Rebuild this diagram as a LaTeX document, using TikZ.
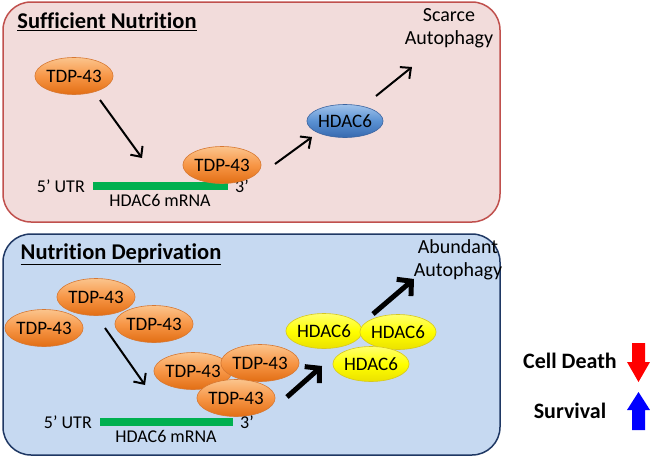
\documentclass[tikz,border=0pt]{standalone}
\usepackage{fontspec}
\setmainfont{Carlito}[Ligatures={TeX,NoCommon}]
\usetikzlibrary{shapes.geometric,arrows.meta,positioning}
\definecolor{pinkbg}{RGB}{242,220,219}
\definecolor{pinkline}{RGB}{192,80,77}
\definecolor{bluebg}{RGB}{198,217,241}
\definecolor{blueline}{RGB}{31,56,100}
\definecolor{tdplight}{RGB}{251,196,140}
\definecolor{tdpmid}{RGB}{247,150,70}
\definecolor{tdpdark}{RGB}{226,110,20}
\definecolor{tdpedge}{RGB}{215,120,50}
\definecolor{hdlight}{RGB}{160,195,235}
\definecolor{hdmid}{RGB}{90,145,210}
\definecolor{hddark}{RGB}{55,105,175}
\definecolor{hdedge}{RGB}{60,100,160}
\definecolor{ylight}{RGB}{255,255,110}
\definecolor{ydark}{RGB}{235,225,0}
\definecolor{yedge}{RGB}{215,200,30}
\definecolor{mrnagreen}{RGB}{0,176,80}
\tikzset{
  every node/.style={font=\fontsize{18}{22}\selectfont},
  tdp/.style={ellipse, minimum width=75pt, minimum height=37pt, inner sep=0pt,
    top color=tdplight, bottom color=tdpdark, middle color=tdpmid,
    draw=tdpedge, line width=0.6pt, font=\fontsize{19}{22}\selectfont},
  hdblue/.style={ellipse, minimum width=76pt, minimum height=33pt, inner sep=0pt,
    top color=hdlight, bottom color=hddark, middle color=hdmid,
    draw=hdedge, line width=0.6pt, font=\fontsize{19}{22}\selectfont},
  hdyellow/.style={ellipse, minimum width=75pt, minimum height=35pt, inner sep=0pt,
    top color=ylight, bottom color=ydark, middle color=yellow,
    draw=yedge, line width=0.6pt, font=\fontsize{19}{22}\selectfont},
  mrna/.style={rectangle, fill=mrnagreen, minimum width=135pt, minimum height=8pt, inner sep=0pt},
  heading/.style={font=\fontsize{22.5}{26}\selectfont\bfseries},
  outcome/.style={align=center, font=\fontsize{20}{23}\selectfont},
  legend/.style={font=\fontsize{22}{24}\selectfont\bfseries},
  thinarrow/.style={line width=2pt, -{Straight Barb[length=8pt,width=15pt]}},
  thickarrow/.style={line width=5pt, -{Straight Barb[length=10pt,width=22pt]}}
}
\begin{document}
\begin{tikzpicture}[x=1pt, y=-1pt]
  \useasboundingbox (0,0) rectangle (650,458);

  % top panel
  \draw[fill=pinkbg, draw=pinkline, line width=1.5pt, rounded corners=28pt] (3,2) rectangle (500,222);
  \node[heading] (titleA) at (107,22) {\underline{Sufficient Nutrition}};
  \node[outcome] (scarce) at (449,28) {Scarce\\Autophagy};

  \node[tdp] (tdpA) at (74,76) {TDP-43};
  \node[mrna] (mrnaA) at (160,186) {};
  \node[left=4pt of mrnaA] (utrA) {5' UTR};
  \node[right=4pt of mrnaA] (endA) {3'};
  \node[below=1pt of mrnaA] (nameA) {HDAC6 mRNA};
  \node[tdp] (tdpB) at (222,165) {TDP-43};
  \node[hdblue] (hdacA) at (345,121) {HDAC6};

  \coordinate (a1s) at (100,100);
  \coordinate (a1e) at (142,158);
  \coordinate (a2s) at (275,164);
  \coordinate (a2e) at (312,137);
  \coordinate (a3s) at (376,96);
  \coordinate (a3e) at (412,67);
  \draw[thinarrow] (a1s) -- (a1e);
  \draw[thinarrow] (a2s) -- (a2e);
  \draw[thinarrow] (a3s) -- (a3e);

  % bottom panel
  \draw[fill=bluebg, draw=blueline, line width=1.5pt, rounded corners=28pt] (3,234) rectangle (500,455);
  \node[heading] (titleB) at (121,254) {\underline{Nutrition Deprivation}};
  \node[outcome] (abundant) at (458,260) {Abundant\\Autophagy};

  \node[tdp] (tdpC) at (96,297) {TDP-43};
  \node[tdp] (tdpD) at (44,328) {TDP-43};
  \node[tdp] (tdpE) at (154,324) {TDP-43};
  \node[tdp] (tdpF) at (193,371) {TDP-43};
  \node[tdp] (tdpG) at (260,363) {TDP-43};
  \node[tdp] (tdpH) at (236,398) {TDP-43};

  \node[mrna, minimum width=133pt] (mrnaB) at (166,422) {};
  \node[left=4pt of mrnaB] (utrB) {5' UTR};
  \node[right=4pt of mrnaB] (endB) {3'};
  \node[below=1pt of mrnaB] (nameB) {HDAC6 mRNA};

  \node[hdyellow] (hdacB) at (324,331) {HDAC6};
  \node[hdyellow] (hdacC) at (398,332) {HDAC6};
  \node[hdyellow] (hdacD) at (371,364) {HDAC6};

  \coordinate (b1s) at (105,328);
  \coordinate (b1e) at (145,385);
  \coordinate (b2s) at (287,397);
  \coordinate (b2e) at (322,366);
  \coordinate (b3s) at (373,314);
  \coordinate (b3e) at (414,279);
  \draw[thinarrow] (b1s) -- (b1e);
  \draw[thickarrow] (b2s) -- (b2e);
  \draw[thickarrow] (b3s) -- (b3e);

  % legend
  \node[legend] (death) at (570,361) {Cell Death};
  \node[legend] (survival) at (570,411) {Survival};
  \fill[red] (632,343) -- (645,343) -- (645,362) -- (650,362) -- (638.5,382)
    -- (627,362) -- (632,362) -- cycle;
  \fill[blue] (632,430) -- (645,430) -- (645,410) -- (650,410) -- (638.5,392)
    -- (627,410) -- (632,410) -- cycle;
\end{tikzpicture}
\end{document}
